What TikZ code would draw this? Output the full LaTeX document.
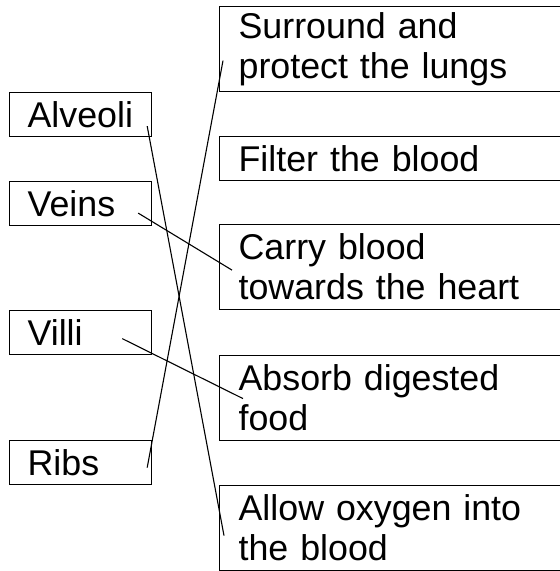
\documentclass[tikz,border=0pt]{standalone}
\usepackage{fontspec}
\setmainfont{Liberation Sans}
\usetikzlibrary{positioning}

\begin{document}
\begin{tikzpicture}[
    x=1pt, y=-1pt,
    box/.style={draw=black, line width=1.2pt, anchor=north west, inner ysep=0pt,
        align=left, font=\fontsize{35.8}{40}\selectfont},
    leftbox/.style={box, minimum width=142pt, minimum height=44pt, text width=106pt, inner xsep=18pt},
    rightbox/.style={box, minimum height=85pt, text width=340pt, inner xsep=19pt},
    link/.style={draw=black, line width=1.1pt}
]
    % Page frame (right column runs off the edge)
    \clip (0,0) rectangle (560,571);

    % Left column terms
    \node[leftbox] (alveoli) at (9,92) {Alveoli};
    \node[leftbox] (veins) at (9,181) {Veins};
    \node[leftbox] (villi) at (9,310) {Villi};
    \node[leftbox] (ribs) at (9,440) {Ribs};

    % Right column functions
    \node[rightbox] (surround) at (219,6) {Surround and\\protect the lungs};
    \node[rightbox, minimum height=44pt] (filter) at (219,136) {Filter the blood};
    \node[rightbox] (carry) at (219,224) {Carry blood\\towards the heart};
    \node[rightbox] (absorb) at (219,355) {Absorb digested\\food};
    \node[rightbox] (allow) at (219,485) {Allow oxygen into\\the blood};

    % Matching lines
    \coordinate (alveoliEnd) at ([xshift=-5pt, yshift=11pt]alveoli.south east);
    \coordinate (allowEnd) at ([xshift=5pt, yshift=-7.5pt]allow.west);
    \coordinate (veinsEnd) at ([xshift=-14pt, yshift=-9.5pt]veins.east);
    \coordinate (carryEnd) at ([xshift=13pt, yshift=-3pt]carry.west);
    \coordinate (villiEnd) at ([xshift=-30pt, yshift=-6pt]villi.east);
    \coordinate (absorbEnd) at ([xshift=24pt, yshift=-0.5pt]absorb.west);
    \coordinate (ribsEnd) at ([xshift=-5pt, yshift=-5pt]ribs.east);
    \coordinate (surroundEnd) at ([xshift=4pt, yshift=-11.5pt]surround.west);

    \draw[link] (alveoliEnd) -- (allowEnd);
    \draw[link] (veinsEnd) -- (carryEnd);
    \draw[link] (villiEnd) -- (absorbEnd);
    \draw[link] (ribsEnd) -- (surroundEnd);
\end{tikzpicture}
\end{document}
